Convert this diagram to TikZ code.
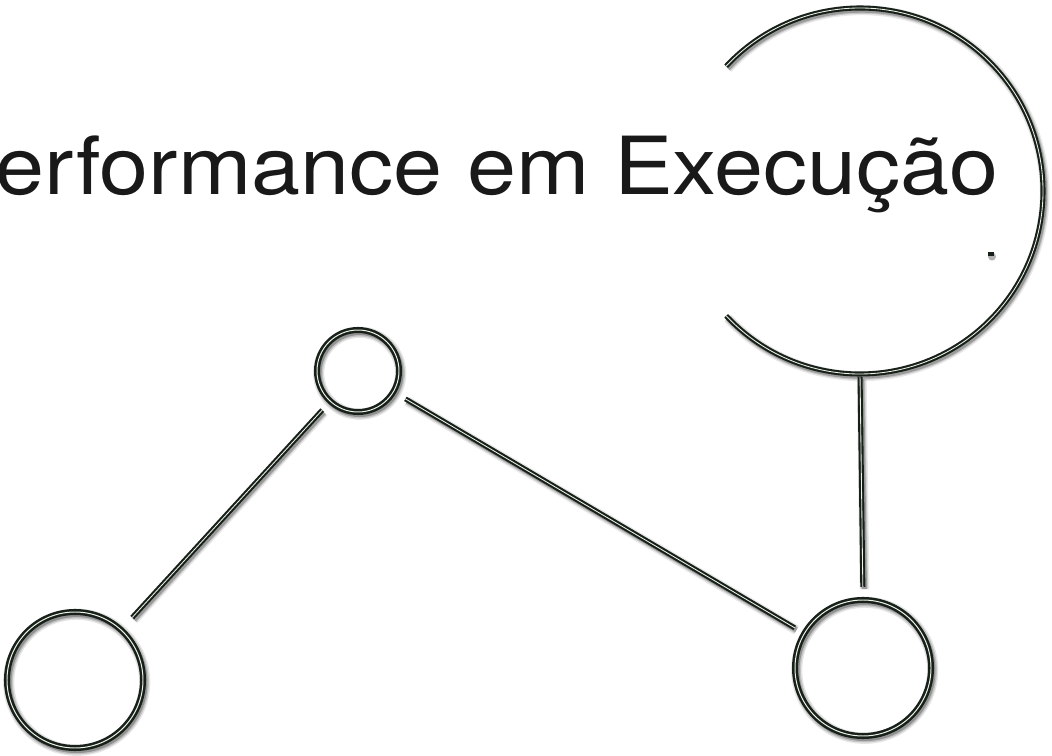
\documentclass[tikz,border=0pt]{standalone}
\usepackage{fontspec}
\setmainfont{TeX Gyre Heros}
\definecolor{ringDark}{HTML}{18201A}
\definecolor{ringLight}{HTML}{EEF2E8}
\usetikzlibrary{positioning,calc}
\tikzset{
 ring/.style={circle, draw=ringDark, double=ringLight, double distance=0.7pt, line width=1.8pt, inner sep=0pt, outer sep=0pt},
 wire/.style={draw=ringDark, double=ringLight, double distance=0.6pt, line width=1.5pt},
 glow/.style={black, transform canvas={shift={(1.2pt,-1.6pt)}}}
}
\newcommand{\ring}[4]{%
\foreach \w/\o in {8pt/0.1,6pt/0.15,4pt/0.25}
 \draw[glow, opacity=\o, line width=\w] (#2,#3) circle[radius=#4];%
\node[ring, minimum size=2*#4cm] (#1) at (#2,#3) {};}
\newcommand{\wire}[4]{%
\foreach \w/\o in {7pt/0.09,5pt/0.14,3.5pt/0.22}
 \draw[glow, opacity=\o, line width=\w, shorten <=#3, shorten >=#4] (#1) -- (#2);%
\draw[wire, shorten <=#3, shorten >=#4] (#1) -- (#2);}

\begin{document}
\begin{tikzpicture}
\useasboundingbox (0,0) rectangle (26.3,18.875);
\node[anchor=base west, inner sep=0pt, font=\fontsize{57}{62}\selectfont, xscale=1.1, text=black!90] (title) at (-0.12,14.0) {erformance em Execução};
% big open circle
\node[circle, minimum size=9.15cm, inner sep=0pt, outer sep=0pt] (big) at (21.5,14.1) {};
\foreach \w/\o in {7pt/0.09,5pt/0.14,3.5pt/0.22}
 \draw[glow, opacity=\o, line width=\w] ([shift={(137:4.575)}]big.center) arc[start angle=137, end angle=-137, radius=4.575];
\draw[wire] ([shift={(137:4.575)}]big.center) arc[start angle=137, end angle=-137, radius=4.575];
\fill[black, opacity=.3] (24.8,12.46) circle[radius=0.1];
\node[fill=ringDark, minimum width=0.16cm, minimum height=0.1cm, inner sep=0pt] (dot) at (24.775,12.53) {};
% rings
\ring{lo}{1.875}{1.875}{1.7}
\ring{mid}{8.95}{9.6}{1.025}
\ring{hi}{21.575}{2.175}{1.7}
% connectors
\wire{lo}{mid}{0.42cm}{0.3cm}
\wire{mid}{hi}{0.35cm}{0.28cm}
\wire{big.south}{hi.north}{0.08cm}{0.33cm}
\end{tikzpicture}
\end{document}
